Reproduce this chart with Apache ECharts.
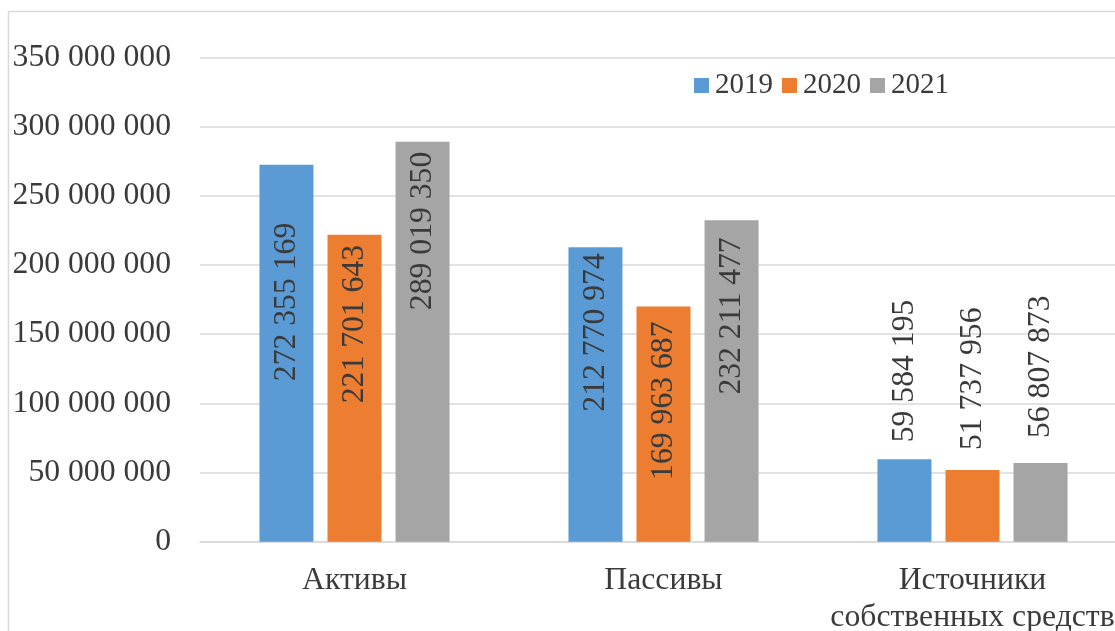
<!DOCTYPE html>
<html>
<head>
<meta charset="utf-8">
<script src="https://cdn.jsdelivr.net/npm/echarts@6/dist/echarts.min.js"></script>
<style>
  html, body { margin: 0; padding: 0; background: #fff; }
  #chart { width: 1115px; height: 631px; }
</style>
</head>
<body>
<div id="chart"></div>
<script>
// Balance sheet totals by year
const categories = ['Активы', 'Пассивы', 'Источники\nсобственных средств'];
const years = ['2019', '2020', '2021'];
const values2019 = [272355169, 212770974, 59584195];
const values2020 = [221701643, 169963687, 51737956];
const values2021 = [289019350, 232211477, 56807873];
const yTicks = { min: 0, max: 350000000, step: 50000000 };

// Label placement (distance from the bar top, px) per category
const labelGap2019 = [58, 6, 17];
const labelGap2020 = [10, 15, 20];
const labelGap2021 = [10, 17, 25];

const colors = ['#5B9BD5', '#ED7D31', '#A5A5A5'];
const textColor = '#3a3a3a';
const fontFamily = '"Liberation Serif", "Times New Roman", serif';
const fontSize = 31.7;

function fmt(v) {
  return String(v).replace(/\B(?=(\d{3})+(?!\d))/g, ' ');
}

function buildData(values, gaps) {
  // first two groups carry their labels inside the bar, the last one above it
  return values.map((v, i) => {
    const inside = i < 2;
    return {
      value: v,
      label: {
        position: inside ? 'insideTop' : 'top',
        align: inside ? 'right' : 'left',
        distance: gaps[i]
      }
    };
  });
}

function makeSeries(name, values, gaps, color) {
  return {
    name: name,
    type: 'bar',
    barWidth: 54,
    barGap: '26%',
    itemStyle: { color: color },
    label: {
      show: true,
      rotate: 90,
      verticalAlign: 'middle',
      color: textColor,
      fontFamily: fontFamily,
      fontSize: fontSize,
      formatter: p => fmt(p.value)
    },
    data: buildData(values, gaps)
  };
}

const chart = echarts.init(document.getElementById('chart'), null, { renderer: 'canvas' });
chart.setOption({
  animation: false,
  backgroundColor: '#ffffff',
  color: colors,
  graphic: [{
    type: 'rect',
    shape: { x: 8.5, y: 11.5, width: 1200, height: 700 },
    style: { fill: 'none', stroke: '#d9d9d9', lineWidth: 1.5 },
    z: -1
  }],
  legend: {
    left: 694,
    top: 71,
    padding: 0,
    itemWidth: 15,
    itemHeight: 15,
    itemGap: 9,
    icon: 'rect',
    textStyle: { color: textColor, fontFamily: fontFamily, fontSize: 29, padding: [0, 0, 0, 1] },
    data: years
  },
  grid: {
    left: 200, width: 927, top: 57.3, height: 484.4,
    containLabel: false,
    outerBoundsMode: 'none'
  },
  xAxis: {
    type: 'category',
    data: categories,
    axisLine: { show: true, lineStyle: { color: '#d9d9d9', width: 1.5 } },
    axisTick: { show: false },
    axisLabel: {
      color: textColor,
      fontFamily: fontFamily,
      fontSize: fontSize,
      lineHeight: 37,
      margin: 20,
      interval: 0
    }
  },
  yAxis: {
    type: 'value',
    min: yTicks.min,
    max: yTicks.max,
    interval: yTicks.step,
    axisLine: { show: false },
    axisTick: { show: false },
    splitLine: { lineStyle: { color: '#d9d9d9', width: 1.5 } },
    axisLabel: {
      color: textColor,
      fontFamily: fontFamily,
      fontSize: fontSize,
      margin: 29,
      formatter: v => fmt(v)
    }
  },
  series: [
    makeSeries(years[0], values2019, labelGap2019, colors[0]),
    makeSeries(years[1], values2020, labelGap2020, colors[1]),
    makeSeries(years[2], values2021, labelGap2021, colors[2])
  ]
});
</script>
</body>
</html>
